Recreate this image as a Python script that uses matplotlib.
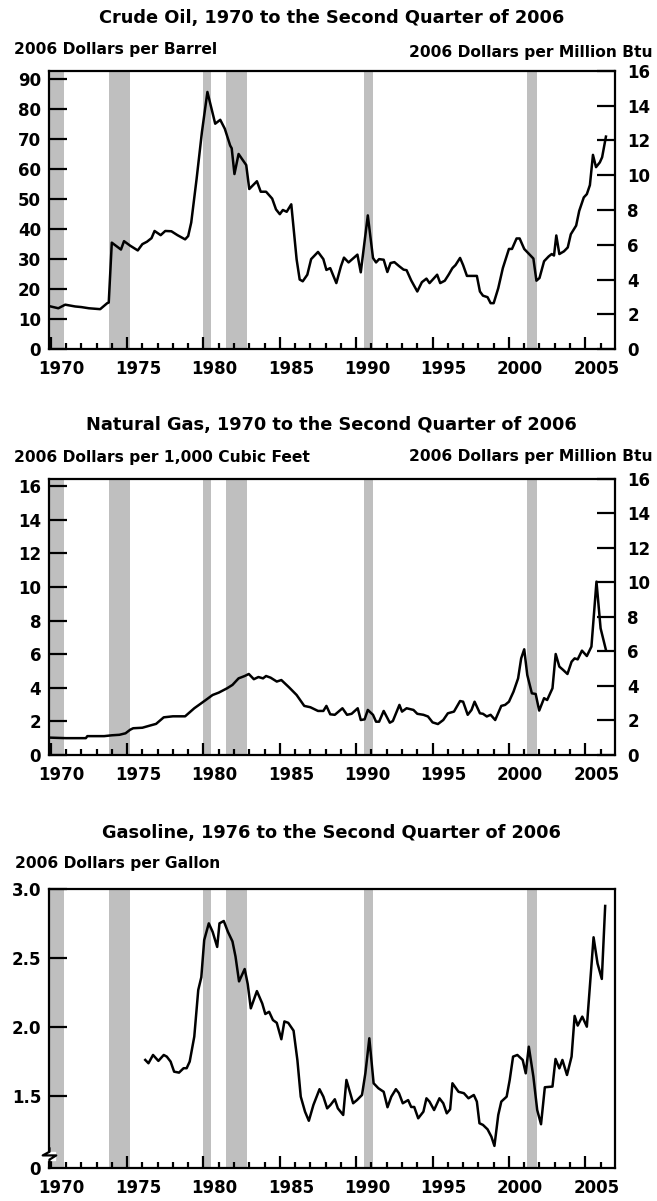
import matplotlib
matplotlib.use('Agg')
import matplotlib.pyplot as plt
from matplotlib.transforms import ScaledTranslation

plt.rcParams['font.family'] = ['DejaVu Sans']
plt.rcParams['font.weight'] = 'bold'

# Recession periods (shaded bands), decimal years
rec_start = [1969.92, 1973.83, 1980.0, 1981.5, 1990.54, 2001.15]
rec_end = [1970.85, 1975.2, 1980.52, 1982.88, 1991.1, 2001.85]

# Crude oil, 2006 dollars per barrel
oil_year = [1970.0, 1970.5, 1970.95, 1971.6, 1972.0, 1972.5, 1973.24, 1973.7, 1973.8,
            1974.0, 1974.6, 1974.8, 1975.2, 1975.7, 1976.0, 1976.3, 1976.6, 1976.8,
            1977.2, 1977.5, 1977.9, 1978.3, 1978.8, 1979.0, 1979.2, 1979.55, 1979.9,
            1980.26, 1980.77, 1981.1, 1981.4, 1981.75, 1981.85, 1982.03, 1982.3, 1982.8,
            1983.0, 1983.5, 1983.75, 1984.1, 1984.5, 1984.75, 1985.0, 1985.2, 1985.45,
            1985.75, 1986.1, 1986.3, 1986.5, 1986.8, 1987.05, 1987.5, 1987.85, 1988.05,
            1988.3, 1988.7, 1989.0, 1989.2, 1989.5, 1990.08, 1990.3, 1990.76, 1991.1,
            1991.3, 1991.5, 1991.8, 1992.04, 1992.25, 1992.5, 1992.8, 1993.1, 1993.3,
            1993.6, 1994.0, 1994.3, 1994.6, 1994.8, 1995.3, 1995.5, 1995.8, 1996.05,
            1996.3, 1996.5, 1996.8, 1997.0, 1997.25, 1997.9, 1998.1, 1998.3, 1998.6,
            1998.8, 1999.0, 1999.3, 1999.6, 2000.0, 2000.2, 2000.5, 2000.7, 2001.0,
            2001.3, 2001.6, 2001.8, 2002.0, 2002.3, 2002.6, 2002.8, 2002.95, 2003.1,
            2003.3, 2003.6, 2003.85, 2004.05, 2004.4, 2004.6, 2004.9, 2005.1, 2005.3,
            2005.5, 2005.7, 2005.95, 2006.1, 2006.35]
oil_price = [14.2, 13.6, 14.8, 14.2, 14.0, 13.6, 13.3, 15.3, 15.5,
             35.5, 33.2, 36.0, 34.5, 32.9, 35.0, 35.8, 37.0, 39.4,
             38.0, 39.4, 39.3, 38.0, 36.6, 37.7, 42.2, 56.7, 72.4,
             85.8, 75.2, 76.5, 73.5, 67.9, 67.0, 58.4, 65.1, 61.4,
             53.4, 56.0, 52.5, 52.5, 50.2, 46.6, 45.0, 46.4, 45.8,
             48.3, 29.9, 23.2, 22.6, 24.8, 30.0, 32.4, 30.0, 26.4,
             27.0, 22.0, 27.6, 30.5, 28.9, 31.5, 25.6, 44.6, 30.4,
             28.9, 30.0, 29.8, 25.7, 28.7, 29.0, 27.7, 26.5, 26.3,
             22.9, 19.2, 22.3, 23.5, 22.0, 24.8, 22.0, 22.8, 24.8,
             27.0, 28.0, 30.4, 28.0, 24.4, 24.4, 19.2, 17.8, 17.3,
             15.3, 15.3, 20.3, 27.0, 33.4, 33.4, 36.9, 36.9, 33.4,
             31.8, 30.2, 22.8, 23.7, 29.3, 30.9, 31.7, 31.2, 37.9,
             31.7, 32.6, 33.9, 38.3, 41.2, 46.1, 50.6, 51.7, 54.7,
             64.8, 60.7, 62.3, 64.0, 70.9]

# Natural gas, 2006 dollars per 1,000 cubic feet
gas_year = [1970.0, 1971.0, 1972.3, 1972.4, 1973.5, 1974.0, 1974.5, 1974.9, 1975.2,
            1975.4, 1976.0, 1976.5, 1976.9, 1977.4, 1978.0, 1978.8, 1979.4, 1979.8,
            1980.15, 1980.6, 1981.0, 1981.55, 1981.9, 1982.3, 1982.7, 1982.97, 1983.3,
            1983.6, 1983.9, 1984.1, 1984.4, 1984.8, 1985.1, 1985.6, 1986.1, 1986.6,
            1987.0, 1987.5, 1987.85, 1988.05, 1988.3, 1988.6, 1989.1, 1989.4, 1989.7,
            1990.1, 1990.3, 1990.55, 1990.76, 1991.1, 1991.3, 1991.5, 1991.8, 1992.2,
            1992.4, 1992.83, 1993.0, 1993.3, 1993.75, 1994.0, 1994.4, 1994.7, 1995.0,
            1995.35, 1995.7, 1996.0, 1996.4, 1996.8, 1997.0, 1997.3, 1997.55, 1997.75,
            1998.1, 1998.3, 1998.55, 1998.8, 1999.1, 1999.5, 1999.75, 2000.0, 2000.3,
            2000.6, 2000.8, 2001.0, 2001.2, 2001.5, 2001.75, 2001.98, 2002.3, 2002.5,
            2002.85, 2003.06, 2003.3, 2003.55, 2003.83, 2004.1, 2004.3, 2004.5, 2004.78,
            2005.1, 2005.4, 2005.73, 2006.0, 2006.35]
gas_price = [1.03, 1.0, 1.0, 1.12, 1.12, 1.17, 1.2, 1.29, 1.5,
             1.59, 1.62, 1.75, 1.85, 2.24, 2.3, 2.3, 2.78, 3.04,
             3.27, 3.57, 3.71, 3.97, 4.17, 4.56, 4.70, 4.82, 4.51,
             4.64, 4.56, 4.70, 4.60, 4.37, 4.46, 4.03, 3.57, 2.92,
             2.84, 2.62, 2.62, 2.92, 2.42, 2.39, 2.78, 2.39, 2.45,
             2.78, 2.08, 2.12, 2.68, 2.39, 1.98, 1.98, 2.62, 1.92,
             2.02, 2.98, 2.58, 2.78, 2.68, 2.45, 2.39, 2.29, 1.94,
             1.84, 2.08, 2.48, 2.58, 3.21, 3.17, 2.39, 2.68, 3.17,
             2.48, 2.45, 2.29, 2.39, 2.08, 2.92, 2.98, 3.17, 3.77,
             4.56, 5.75, 6.29, 4.76, 3.67, 3.63, 2.64, 3.38, 3.27,
             3.97, 6.01, 5.26, 5.06, 4.82, 5.55, 5.75, 5.69, 6.21,
             5.89, 6.45, 10.32, 7.54, 6.25]

# Gasoline, 2006 dollars per gallon
gasoline_year = [1976.19, 1976.4, 1976.7, 1977.05, 1977.4, 1977.6, 1977.85, 1978.08, 1978.4,
                 1978.7, 1978.9, 1979.1, 1979.4, 1979.66, 1979.86, 1980.05, 1980.35, 1980.6,
                 1980.9, 1981.05, 1981.33, 1981.6, 1981.9, 1982.1, 1982.33, 1982.7, 1982.9,
                 1983.1, 1983.5, 1983.85, 1984.05, 1984.3, 1984.55, 1984.8, 1985.1, 1985.3,
                 1985.55, 1985.9, 1986.15, 1986.37, 1986.65, 1986.9, 1987.2, 1987.6, 1987.85,
                 1988.1, 1988.32, 1988.6, 1988.8, 1989.15, 1989.36, 1989.8, 1990.05, 1990.38,
                 1990.6, 1990.86, 1991.14, 1991.45, 1991.8, 1992.05, 1992.3, 1992.6, 1992.8,
                 1993.05, 1993.4, 1993.6, 1993.8, 1994.06, 1994.4, 1994.6, 1994.8, 1995.1,
                 1995.45, 1995.7, 1995.93, 1996.15, 1996.3, 1996.7, 1997.05, 1997.35, 1997.7,
                 1997.9, 1998.07, 1998.3, 1998.6, 1998.85, 1999.05, 1999.3, 1999.5, 1999.85,
                 2000.05, 2000.27, 2000.55, 2000.9, 2001.1, 2001.3, 2001.6, 2001.85, 2002.1,
                 2002.35, 2002.85, 2003.05, 2003.3, 2003.5, 2003.8, 2004.1, 2004.3, 2004.5,
                 2004.8, 2005.1, 2005.54, 2005.8, 2006.08, 2006.3]
gasoline_price = [1.761, 1.737, 1.797, 1.754, 1.797, 1.785, 1.749, 1.676, 1.669,
                  1.701, 1.701, 1.749, 1.930, 2.268, 2.36, 2.63, 2.751, 2.69,
                  2.58, 2.751, 2.768, 2.69, 2.62, 2.51, 2.33, 2.42, 2.31,
                  2.135, 2.26, 2.17, 2.094, 2.11, 2.05, 2.03, 1.911, 2.04,
                  2.03, 1.973, 1.76, 1.495, 1.386, 1.32, 1.435, 1.549, 1.495,
                  1.41, 1.435, 1.476, 1.41, 1.362, 1.616, 1.447, 1.47, 1.507,
                  1.664, 1.918, 1.592, 1.556, 1.53, 1.418, 1.495, 1.549, 1.52,
                  1.447, 1.47, 1.42, 1.42, 1.338, 1.386, 1.483, 1.459, 1.398,
                  1.483, 1.447, 1.374, 1.403, 1.592, 1.53, 1.52, 1.483, 1.507,
                  1.459, 1.302, 1.29, 1.258, 1.205, 1.138, 1.362, 1.459, 1.495,
                  1.616, 1.785, 1.797, 1.761, 1.664, 1.857, 1.64, 1.398, 1.295,
                  1.563, 1.568, 1.768, 1.70, 1.761, 1.652, 1.785, 2.08, 2.01,
                  2.075, 2.002, 2.65, 2.46, 2.348, 2.877]

years_major = [1970, 1975, 1980, 1985, 1990, 1995, 2000, 2005]
years_minor = list(range(1970, 2007))

oil_ticks = [0, 10, 20, 30, 40, 50, 60, 70, 80, 90]
gas_ticks = [0, 2, 4, 6, 8, 10, 12, 14, 16]
btu_ticks = [0, 2, 4, 6, 8, 10, 12, 14, 16]
gasoline_ticks = [1.5, 2.0, 2.5, 3.0]

BBL_PER_MMBTU = 5.8     # barrel of crude -> million Btu
MCF_PER_MMBTU = 1.027   # 1,000 cubic feet of gas -> million Btu

XLIM = (1969.92, 2006.94)
BAND = '#bfbfbf'
LW = 1.6
TICK_FS = 12
TITLE_FS = 12.8
SUB_FS = 11.2

fig = plt.figure(figsize=(6.57, 12.01), dpi=100)


def style_axes(ax):
    for s in ax.spines.values():
        s.set_linewidth(LW)
    ax.set_xlim(*XLIM)
    ax.set_xticks(years_major)
    ax.set_xticklabels([str(y) for y in years_major])
    ax.set_xticks(years_minor, minor=True)
    ax.tick_params(axis='x', which='major', direction='in', length=9, width=LW,
                   labelsize=TICK_FS, pad=8)
    ax.tick_params(axis='x', which='minor', direction='in', length=4.5, width=LW)
    ax.tick_params(axis='y', which='major', direction='in', length=13, width=LW,
                   labelsize=TICK_FS, pad=6)
    # labels sit a little to the right of the year tick
    off = ScaledTranslation(0.11, 0, fig.dpi_scale_trans)
    for lab in ax.get_xticklabels():
        lab.set_transform(lab.get_transform() + off)
    for a, b in zip(rec_start, rec_end):
        ax.axvspan(a, b, color=BAND, lw=0, zorder=0)


def right_axis(ax, top):
    r = ax.twinx()
    r.set_ylim(0, top)
    r.set_yticks(btu_ticks)
    r.tick_params(axis='y', direction='in', length=13, width=LW, labelsize=TICK_FS,
                  pad=9)
    for s in r.spines.values():
        s.set_visible(False)
    return r


# ---- Crude oil ----
ax1 = fig.add_axes([0.0753, 0.7094, 0.8607, 0.2315])
style_axes(ax1)
ax1.plot(oil_year, oil_price, color='black', lw=1.8)
ax1.set_ylim(0, 16 * BBL_PER_MMBTU)
ax1.set_yticks(oil_ticks)
right_axis(ax1, 16)
fig.text(0.505, 0.985, 'Crude Oil, 1970 to the Second Quarter of 2006',
         ha='center', va='center', fontsize=TITLE_FS)
fig.text(0.021, 0.959, '2006 Dollars per Barrel', ha='left', va='center', fontsize=SUB_FS)
fig.text(0.993, 0.9567, '2006 Dollars per Million Btu', ha='right', va='center',
         fontsize=SUB_FS)

# ---- Natural gas ----
ax2 = fig.add_axes([0.0753, 0.3714, 0.8607, 0.2298])
style_axes(ax2)
ax2.plot(gas_year, gas_price, color='black', lw=1.8)
ax2.set_ylim(0, 16 * MCF_PER_MMBTU)
ax2.set_yticks(gas_ticks)
right_axis(ax2, 16)
fig.text(0.505, 0.646, 'Natural Gas, 1970 to the Second Quarter of 2006',
         ha='center', va='center', fontsize=TITLE_FS)
fig.text(0.021, 0.6187, '2006 Dollars per 1,000 Cubic Feet', ha='left', va='center',
         fontsize=SUB_FS)
fig.text(0.993, 0.6195, '2006 Dollars per Million Btu', ha='right', va='center',
         fontsize=SUB_FS)

# ---- Gasoline ----
ax3 = fig.add_axes([0.0753, 0.0275, 0.8607, 0.2323])
style_axes(ax3)
ax3.plot(gasoline_year, gasoline_price, color='black', lw=1.8)
ylo = 0.978
ax3.set_ylim(ylo, 3.0)
ax3.set_yticks([ylo] + gasoline_ticks)
ax3.set_yticklabels(['0'] + ['%.1f' % v for v in gasoline_ticks])
ax3.yaxis.get_major_ticks()[0].tick1line.set_visible(False)
# axis break on the left spine
ax3.fill_between([-0.02, 0.01], 0.028, 0.058, color='white', transform=ax3.transAxes,
                 clip_on=False, zorder=5)
ax3.plot([0.0, 0.0, 0.012, -0.012, 0.0, 0.0], [0.0, 0.03, 0.045, 0.045, 0.058, 0.07],
         color='black', lw=LW, transform=ax3.transAxes, clip_on=False, zorder=6)
fig.text(0.505, 0.3064, 'Gasoline, 1976 to the Second Quarter of 2006',
         ha='center', va='center', fontsize=TITLE_FS)
fig.text(0.023, 0.2814, '2006 Dollars per Gallon', ha='left', va='center', fontsize=SUB_FS)

fig.savefig('out.png', dpi=100)
